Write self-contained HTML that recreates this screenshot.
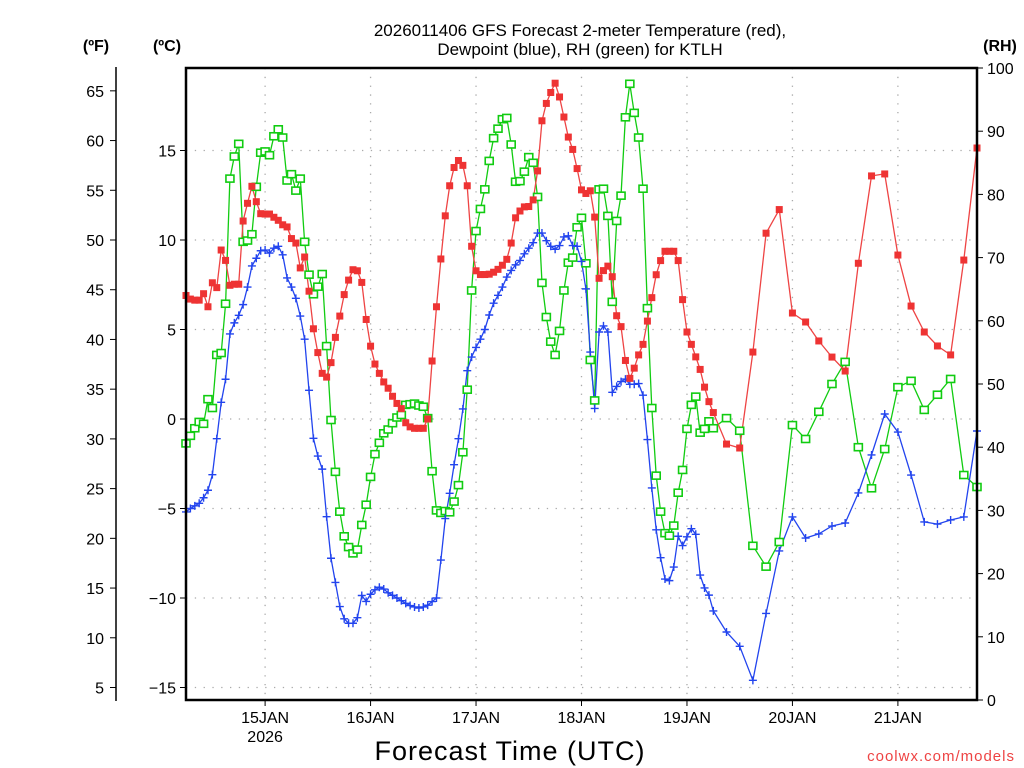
<!DOCTYPE html>
<html><head><meta charset="utf-8">
<style>
html,body{margin:0;padding:0;background:#fff;}
svg{display:block;font-family:"Liberation Sans",sans-serif;}
</style></head>
<body>
<svg id="chart" width="1024" height="768" viewBox="0 0 1024 768" xmlns="http://www.w3.org/2000/svg">
<text x="580" y="36" font-size="17" text-anchor="middle" fill="#000">2026011406 GFS Forecast 2-meter Temperature (red),</text>
<text x="580" y="55" font-size="17" text-anchor="middle" fill="#000">Dewpoint (blue), RH (green) for KTLH</text>
<text x="96" y="51" font-size="16" font-weight="bold" text-anchor="middle">(ºF)</text>
<text x="167" y="51" font-size="16" font-weight="bold" text-anchor="middle">(ºC)</text>
<text x="1000" y="51" font-size="16" font-weight="bold" text-anchor="middle">(RH)</text>
<g id="grid"></g>
<g id="axes"></g>
<g id="series"></g>
<rect x="186" y="68" width="791" height="632" fill="none" stroke="#000" stroke-width="2.5"/>
<text x="510" y="760" font-size="27" text-anchor="middle" letter-spacing="1">Forecast Time (UTC)</text>
<text x="1015" y="761" font-size="15" text-anchor="end" fill="#ee4444" letter-spacing="1">coolwx.com/models</text>
</svg>
<script>
const hours = [];
for (let h = 0; h <= 120; h++) hours.push(h);
for (let h = 123; h <= 180; h += 3) hours.push(h);

const tempC = [6.9,6.7,6.64,6.64,7.0,6.27,7.61,7.34,9.44,8.86,7.47,7.53,7.53,11.06,12.05,13.0,12.14,11.47,11.45,11.45,11.27,11.1,10.85,10.73,10.08,9.83,8.44,9.05,7.14,5.04,3.71,2.55,2.34,3.15,4.56,5.75,6.95,7.76,8.34,8.28,7.63,5.56,4.07,3.07,2.55,2.07,1.72,1.27,0.87,0.58,-0.21,-0.44,-0.52,-0.52,-0.52,0.0,3.24,6.27,8.94,11.35,13.03,14.05,14.44,14.17,13.03,9.65,8.28,8.07,8.07,8.09,8.2,8.36,8.59,8.92,9.83,11.24,11.62,11.85,11.87,12.24,13.86,16.66,17.63,18.24,18.76,17.99,16.87,15.75,15.06,13.99,12.8,12.6,12.75,11.28,7.86,8.29,8.54,7.95,5.77,5.16,3.27,2.27,2.84,3.58,4.17,5.47,6.78,8.06,8.85,9.37,9.37,9.37,8.85,6.67,4.86,4.17,3.47,2.77,1.78,0.97,0.36,
-1.4,-1.62,3.74,10.38,11.7,5.92,5.42,4.36,3.46,2.68,8.7,13.58,13.69,9.16,6.31,4.86,4.08,3.58,8.88,15.14];

const dewC = [-5.19,-5.0,-4.85,-4.71,-4.4,-3.98,-3.11,-1.1,0.93,2.22,4.75,5.37,5.79,6.39,7.37,8.55,8.98,9.4,9.44,9.27,9.54,9.65,9.17,7.88,7.37,6.74,5.75,4.46,1.6,-1.08,-2.07,-2.8,-5.46,-7.78,-9.13,-10.48,-11.16,-11.41,-11.41,-11.1,-9.86,-10.19,-9.79,-9.54,-9.4,-9.5,-9.71,-9.85,-10.0,-10.15,-10.3,-10.42,-10.5,-10.56,-10.5,-10.4,-10.2,-10.0,-7.88,-5.56,-4.15,-2.55,-1.1,0.56,2.7,3.46,4.0,4.46,5.0,5.81,6.47,6.91,7.37,7.93,8.3,8.61,8.86,9.23,9.54,9.85,10.39,10.39,9.96,9.65,9.48,9.69,10.17,10.23,9.69,9.65,8.8,7.27,3.74,0.59,4.86,5.2,4.86,1.49,1.82,2.09,2.23,1.94,1.94,1.98,1.33,-1.15,-3.85,-6.19,-7.75,-8.94,-9.03,-8.27,-6.55,-7.07,-6.58,-6.13,-6.44,-8.72,-9.44,-9.84,-10.72,
-11.9,-12.7,-14.6,-10.86,-7.37,-5.47,-6.65,-6.42,-5.98,-5.81,-4.13,-2.01,0.28,-0.73,-3.13,-5.75,-5.87,-5.64,-5.47,-0.67];

const rh = [40.6,41.8,43.0,44.0,43.7,47.6,46.2,54.6,54.9,62.7,82.5,86.0,88.0,72.5,72.7,73.7,81.2,86.6,86.8,86.2,89.2,90.3,89.0,82.2,83.2,80.6,82.5,72.5,67.3,64.2,65.4,67.4,56.0,44.3,36.1,29.8,25.9,24.2,23.2,23.8,27.7,30.9,35.3,38.9,40.7,42.2,42.8,43.8,44.7,45.1,46.7,46.8,46.9,46.6,46.4,44.6,36.2,30.0,29.6,29.9,29.7,31.4,34.0,39.2,49.1,64.8,74.2,77.7,80.8,85.3,88.9,90.4,91.9,92.1,87.9,82.0,82.1,83.6,85.9,85.0,79.6,66.0,60.6,56.7,54.6,58.4,64.8,69.2,70.0,74.8,76.3,69.1,53.8,47.4,80.8,80.9,76.6,63.0,75.8,79.8,92.2,97.5,92.9,89.0,80.9,62.0,46.2,35.5,29.8,26.4,26.0,27.6,32.8,36.4,42.9,46.7,48.0,42.3,42.9,44.1,43.0,
44.6,42.6,24.4,21.1,25.0,43.5,41.3,45.6,50.0,53.5,40.0,33.5,39.7,49.5,50.5,45.9,48.3,50.8,35.6,33.7];

const dayLabels = ["15JAN","16JAN","17JAN","18JAN","19JAN","20JAN","21JAN"];
const dayHours = [18,42,66,90,114,138,162];
const cTicks = [-15,-10,-5,0,5,10,15];
const fTicks = [5,10,15,20,25,30,35,40,45,50,55,60,65];
const rhTicks = [0,10,20,30,40,50,60,70,80,90,100];

const NS = "http://www.w3.org/2000/svg";
const X0 = 186, X1 = 977, HMAX = 180;
function xScale(h){ return X0 + h * (X1 - X0) / HMAX; }
function yC(c){ return 419 - c * 17.9; }
function yF(f){ return yC((f - 32) * 5 / 9); }
function yRH(r){ return 700 - r * 6.32; }
function mk(tag, attrs, parent){
  const e = document.createElementNS(NS, tag);
  for (const k in attrs) e.setAttribute(k, attrs[k]);
  parent.appendChild(e);
  return e;
}
const grid = document.getElementById('grid');
const axes = document.getElementById('axes');
const series = document.getElementById('series');

cTicks.forEach(c => {
  const y = yC(c);
  const g = mk('line', {x1:X0, x2:X1, y1:y, y2:y, stroke:'#aaa', 'stroke-width':1.3, 'stroke-dasharray':'1.3,7.5'}, grid);
  
  
  const t = mk('line', {x1:X0-6, x2:X0, y1:y, y2:y, stroke:'#000', 'stroke-width':1}, axes);
  
  
  const l = mk('text', {x:X0-10, y:y+6, 'font-size':16, 'text-anchor':'end'}, axes);
  l.textContent = c < 0 ? '\u2212' + Math.abs(c) : String(c);
  
  
});
dayHours.forEach((h, i) => {
  const x = xScale(h);
  const g = mk('line', {x1:x, x2:x, y1:68, y2:700, stroke:'#aaa', 'stroke-width':1.3, 'stroke-dasharray':'1.3,7.5'}, grid);
  
  
  const t = mk('line', {x1:x, x2:x, y1:700, y2:706, stroke:'#000', 'stroke-width':1}, axes);
  
  
  const l = mk('text', {x:x, y:723, 'font-size':16, 'text-anchor':'middle'}, axes);
  l.textContent = dayLabels[i];
  
  
});
const yr = mk('text', {x:xScale(dayHours[0]), y:742, 'font-size':16, 'text-anchor':'middle'}, axes);
yr.textContent = '2026';



const fAxis = mk('line', {x1:116, x2:116, y1:67, y2:701, stroke:'#000', 'stroke-width':1.5}, axes);


fTicks.forEach(f => {
  const y = yF(f);
  const t = mk('line', {x1:110, x2:116, y1:y, y2:y, stroke:'#000', 'stroke-width':1}, axes);
  
  
  const l = mk('text', {x:104, y:y+6, 'font-size':16, 'text-anchor':'end'}, axes);
  l.textContent = String(f);
  
  
});
rhTicks.forEach(r => {
  const y = yRH(r);
  const t = mk('line', {x1:X1, x2:X1+6, y1:y, y2:y, stroke:'#000', 'stroke-width':1}, axes);
  
  
  const l = mk('text', {x:X1+10, y:y+6, 'font-size':16, 'text-anchor':'start'}, axes);
  l.textContent = String(r);
  
  
});

function drawLine(vals, yfn, color, name){
  const pts = vals.map((v, i) => xScale(hours[i]).toFixed(1) + ',' + yfn(v).toFixed(1)).join(' ');
  const p = mk('polyline', {points:pts, fill:'none', stroke:color, 'stroke-width':1.3}, series);
  
  
}
drawLine(rh, yRH, '#11cc11', 'rh-line');
drawLine(dewC, yC, '#2244ee', 'dewpoint-line');
drawLine(tempC, yC, '#ee4444', 'temperature-line');

rh.forEach((v, i) => {
  const x = xScale(hours[i]), y = yRH(v);
  const r = mk('rect', {x:x-4, y:y-3.5, width:8, height:7, fill:'#fff', stroke:'#11cc11', 'stroke-width':1.6}, series);
  
  
});
dewC.forEach((v, i) => {
  const x = xScale(hours[i]), y = yC(v);
  const p = mk('path', {d:`M${x-4},${y}H${x+4}M${x},${y-4}V${y+4}`, stroke:'#2244ee', 'stroke-width':1.4, fill:'none'}, series);
  
  
});
tempC.forEach((v, i) => {
  const x = xScale(hours[i]), y = yC(v);
  const r = mk('rect', {x:x-3.5, y:y-3.5, width:7, height:7, fill:'#ee3333'}, series);
  
  
});
</script>
</body></html>
